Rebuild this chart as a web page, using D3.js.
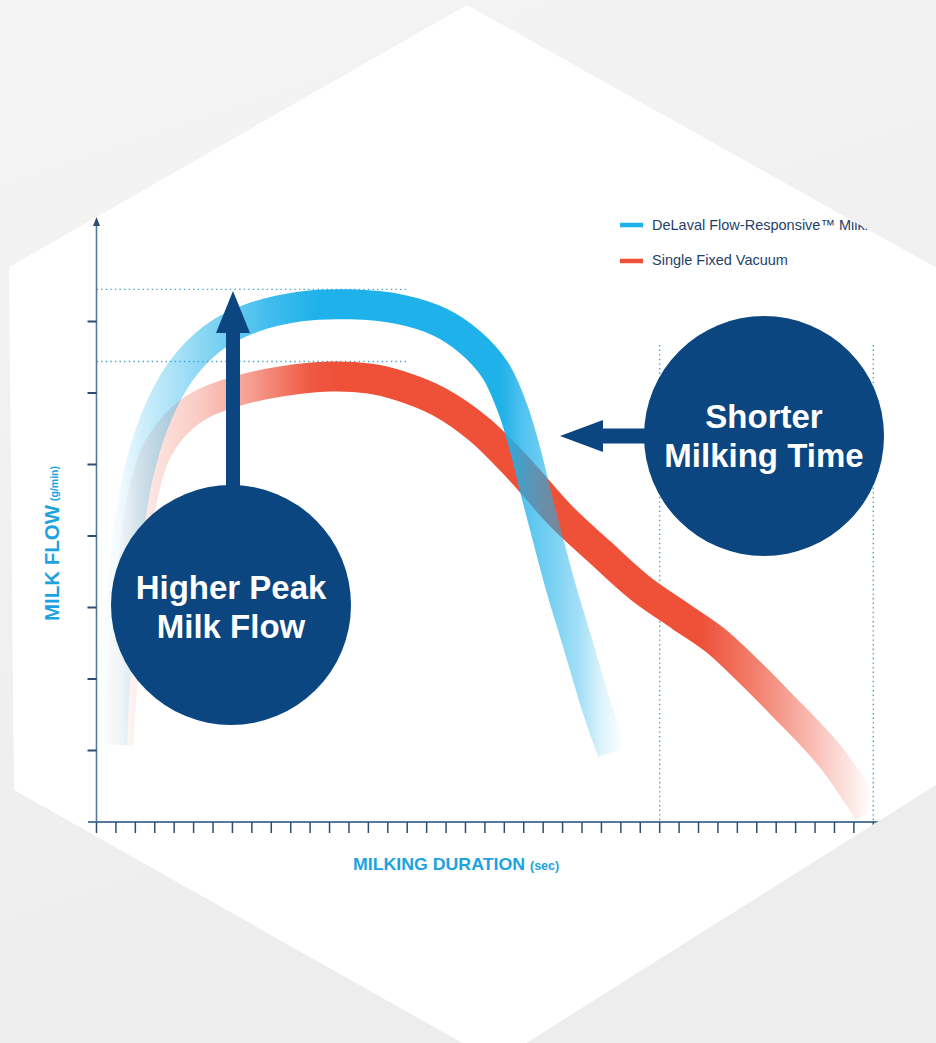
<!DOCTYPE html>
<html>
<head>
<meta charset="utf-8">
<script src="https://cdn.jsdelivr.net/npm/d3@7/dist/d3.min.js"></script>
<style>
  html, body { margin: 0; padding: 0; background: #f2f2f2; }
  svg { display: block; }
  text { font-family: "Liberation Sans", Arial, Helvetica, sans-serif; }
</style>
</head>
<body>
<svg id="chart" width="936" height="1043"></svg>
<script>
// ---- data ----
// x: milking duration in tick units (one tick per interval), y: milk flow in axis units
const durationTicks = d3.range(0, 41);
const flowTicks = [1, 2, 3, 4, 5, 6, 7];

const flowResponsiveX = [0.80, 1.06, 1.47, 2.09, 3.01, 4.30, 5.95, 7.91, 10.48, 13.06, 15.63, 17.70, 19.24, 20.53, 21.46, 22.08, 22.59, 23.26, 23.88, 24.81, 25.73, 26.56];
const flowResponsiveY = [1.08, 2.40, 3.66, 4.78, 5.62, 6.29, 6.76, 7.04, 7.21, 7.24, 7.17, 6.99, 6.71, 6.32, 5.76, 5.20, 4.64, 3.94, 3.31, 2.47, 1.63, 0.98];

const fixedVacuumX = [1.11, 1.42, 1.83, 2.34, 3.01, 4.04, 5.33, 7.39, 9.45, 12.03, 14.09, 15.64, 17.70, 19.76, 21.82, 23.88, 25.94, 28.00, 30.06, 31.87, 33.42, 35.22, 37.80, 39.75];
const fixedVacuumY = [1.08, 2.26, 3.52, 4.50, 5.13, 5.55, 5.83, 6.04, 6.16, 6.23, 6.20, 6.10, 5.87, 5.48, 4.92, 4.29, 3.77, 3.27, 2.88, 2.54, 2.15, 1.66, 0.91, 0.14];

const seriesNames = ["DeLaval Flow-Responsive\u2122 Milking", "Single Fixed Vacuum"];
const endMarkers = [29, 40];          // end of milking for each system
const peakGuideEnd = 16;              // horizontal guide lines run to this duration

const W = 936, H = 1043;
const BLUE = "#1eb1ea", RED = "#ee5038", NAVY = "#0b4680", LABEL = "#1aa3df";
const BAND = 30;

const svg = d3.select("#chart");
const defs = svg.append("defs");

// ---- background and hexagon panel ----
const bg = defs.append("linearGradient").attr("id", "bgGrad")
  .attr("x1", 0).attr("y1", 0).attr("x2", 0.3).attr("y2", 1);
bg.append("stop").attr("offset", 0).attr("stop-color", "#f4f4f4");
bg.append("stop").attr("offset", 1).attr("stop-color", "#ededed");
svg.append("rect").attr("width", W).attr("height", H).attr("fill", "url(#bgGrad)");

const hexagon = [[467, 5], [960, 281], [960, 770], [496, 1062], [14, 790], [9, 267]];
const hexPath = "M" + hexagon.map(p => p.join(",")).join("L") + "Z";
svg.append("path").attr("d", hexPath).attr("fill", "#ffffff");
defs.append("clipPath").attr("id", "hexClip").append("path").attr("d", hexPath);

const g = svg.append("g").attr("clip-path", "url(#hexClip)");

// ---- scales ----
const x = d3.scaleLinear().domain([0, 40]).range([96.5, 873.3]);
const y = d3.scaleLinear().domain([0, 7]).range([822, 321.5]);

// ---- guide lines (dotted) ----
const guideColor = "#4a9fcf";
const bluePeak = d3.max(flowResponsiveY), redPeak = d3.max(fixedVacuumY);
[bluePeak, redPeak].forEach(v => {
  g.append("line")
    .attr("x1", x(0)).attr("x2", x(peakGuideEnd))
    .attr("y1", y(v) - BAND / 2).attr("y2", y(v) - BAND / 2)
    .attr("stroke", guideColor).attr("stroke-width", 1.4)
    .attr("stroke-dasharray", "1.4,3.2");
});
endMarkers.forEach(t => {
  g.append("line")
    .attr("x1", x(t)).attr("x2", x(t))
    .attr("y1", 345).attr("y2", y(0))
    .attr("stroke", guideColor).attr("stroke-width", 1.4)
    .attr("stroke-dasharray", "1.4,3.2");
});

// ---- fading gradients along the duration axis ----
function fadeGradient(id, color, stops) {
  const lg = defs.append("linearGradient").attr("id", id)
    .attr("gradientUnits", "userSpaceOnUse")
    .attr("x1", x(0)).attr("x2", x(40)).attr("y1", 0).attr("y2", 0);
  stops.forEach(([t, o]) => {
    lg.append("stop").attr("offset", (x(t) - x(0)) / (x(40) - x(0)))
      .attr("stop-color", color).attr("stop-opacity", o);
  });
}
fadeGradient("blueFade", BLUE, [[0.0, 0.0], [1.2, 0.06], [2.4, 0.22], [5.3, 0.5], [8.9, 0.85], [11.5, 1], [20.8, 1], [22.1, 0.75], [23.4, 0.6], [24.9, 0.4], [26.0, 0.15], [27.2, 0.0]]);
fadeGradient("redFade", RED, [[0.0, 0.0], [1.4, 0.04], [2.4, 0.12], [5.3, 0.3], [7.9, 0.55], [11.0, 0.95], [12.5, 1], [31.1, 1], [34.2, 0.7], [36.7, 0.4], [38.8, 0.14], [40, 0.0]]);

const line = d3.line()
  .x(d => x(d[0])).y(d => y(d[1]))
  .curve(d3.curveCatmullRom.alpha(0.5));

const redData = fixedVacuumX.map((v, i) => [v, fixedVacuumY[i]]);
const blueData = flowResponsiveX.map((v, i) => [v, flowResponsiveY[i]]);

g.append("path").datum(redData).attr("d", line)
  .attr("fill", "none").attr("stroke", "url(#redFade)").attr("stroke-width", BAND);
g.append("path").datum(blueData).attr("d", line)
  .attr("fill", "none").attr("stroke", "url(#blueFade)").attr("stroke-width", BAND);

// ---- axes ----
const axisColor = "#56799c", tickColor = "#2e4e70";
g.append("line").attr("x1", x(0)).attr("x2", x(0)).attr("y1", y(0) + 1).attr("y2", 224)
  .attr("stroke", axisColor).attr("stroke-width", 1.6);
g.append("path").attr("d", `M${x(0)},217 L${x(0) - 3.5},226 L${x(0) + 3.5},226 Z`).attr("fill", "#2e4e70");
g.append("line").attr("x1", 88).attr("x2", 882).attr("y1", y(0)).attr("y2", y(0))
  .attr("stroke", axisColor).attr("stroke-width", 1.8);

g.selectAll(".xtick").data(durationTicks).join("line")
  .attr("x1", d => x(d)).attr("x2", d => x(d))
  .attr("y1", y(0)).attr("y2", y(0) + 11)
  .attr("stroke", tickColor).attr("stroke-width", 1.5);
g.selectAll(".ytick").data(flowTicks).join("line")
  .attr("x1", x(0) - 9).attr("x2", x(0))
  .attr("y1", d => y(d)).attr("y2", d => y(d))
  .attr("stroke", tickColor).attr("stroke-width", 1.8);

// ---- axis titles ----
const yTitle = g.append("g").attr("transform", "translate(59,621) rotate(-90)");
yTitle.append("text").attr("x", 0).attr("y", 0)
  .attr("font-size", 20).attr("font-weight", "bold").attr("fill", LABEL)
  .attr("textLength", 116).attr("lengthAdjust", "spacingAndGlyphs")
  .text("MILK FLOW");
yTitle.append("text").attr("x", 120).attr("y", -1)
  .attr("font-size", 10.5).attr("font-weight", "bold").attr("fill", LABEL)
  .text("(g/min)");

g.append("text").attr("x", 353).attr("y", 870)
  .attr("font-size", 17).attr("font-weight", "bold").attr("fill", LABEL)
  .attr("textLength", 172).attr("lengthAdjust", "spacingAndGlyphs")
  .text("MILKING DURATION");
g.append("text").attr("x", 530).attr("y", 870)
  .attr("font-size", 12.5).attr("font-weight", "bold").attr("fill", LABEL)
  .text("(sec)");

// ---- legend ----
const legend = g.append("g");
[[BLUE, 225, 229.5], [RED, 261, 264.5]].forEach(([c, sy, ty], i) => {
  legend.append("line").attr("x1", 620).attr("x2", 643).attr("y1", sy).attr("y2", sy)
    .attr("stroke", c).attr("stroke-width", 4.5);
  legend.append("text").attr("x", 652).attr("y", ty)
    .attr("font-size", 14.5).attr("fill", "#1f3f6a")
    .text(seriesNames[i]);
});

// ---- callouts ----
// Higher peak: circle with an upward arrow to the peak guide
const c1 = { cx: 231, cy: 605, r: 120 };
g.append("rect").attr("x", 226).attr("y", 330).attr("width", 14).attr("height", c1.cy - 330)
  .attr("fill", NAVY);
g.append("path").attr("d", `M233,291 L250,333 L216,333 Z`).attr("fill", NAVY);
g.append("circle").attr("cx", c1.cx).attr("cy", c1.cy).attr("r", c1.r).attr("fill", NAVY);
g.append("text").attr("x", c1.cx).attr("y", 599).attr("text-anchor", "middle")
  .attr("font-size", 33).attr("font-weight", "bold").attr("fill", "#fff").text("Higher Peak");
g.append("text").attr("x", c1.cx).attr("y", 638).attr("text-anchor", "middle")
  .attr("font-size", 33).attr("font-weight", "bold").attr("fill", "#fff").text("Milk Flow");

// Shorter time: circle with a leftward arrow
const c2 = { cx: 764, cy: 436, r: 120 };
g.append("rect").attr("x", 600).attr("y", 428.5).attr("width", c2.cx - 600).attr("height", 15)
  .attr("fill", NAVY);
g.append("path").attr("d", `M560,436 L603,420 L603,452 Z`).attr("fill", NAVY);
g.append("circle").attr("cx", c2.cx).attr("cy", c2.cy).attr("r", c2.r).attr("fill", NAVY);
g.append("text").attr("x", c2.cx).attr("y", 428).attr("text-anchor", "middle")
  .attr("font-size", 33).attr("font-weight", "bold").attr("fill", "#fff").text("Shorter");
g.append("text").attr("x", c2.cx).attr("y", 467).attr("text-anchor", "middle")
  .attr("font-size", 33).attr("font-weight", "bold").attr("fill", "#fff").text("Milking Time");
</script>
</body>
</html>
